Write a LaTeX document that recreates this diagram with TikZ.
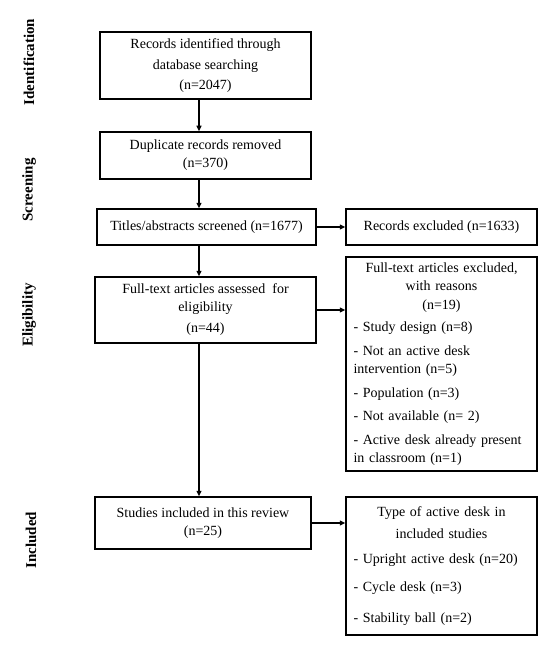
\documentclass[tikz,border=0pt]{standalone}
\usepackage{fontspec}
\setmainfont{Liberation Serif}
\usetikzlibrary{arrows.meta}
\begin{document}
\begin{tikzpicture}[x=1pt,y=-1pt,
  box/.style={draw, line width=1.5pt, inner sep=0pt, align=center,
    font=\fontsize{14}{18}\selectfont},
  listbox/.style={box, align=left, text width=176pt, inner xsep=7.5pt},
  phase/.style={rotate=90, font=\bfseries\fontsize{15}{17}\selectfont},
  arr/.style={line width=1.3pt, -{Triangle[length=5.5pt,width=5pt]}}]
\useasboundingbox (0,0) rectangle (556,650);
% phase labels
\node[phase] (pid) at (29,62) {Identification};
\node[phase] (psc) at (29,190) {Screening};
\node[phase] (pel) at (29,315) {Eligibility};
\node[phase] (pin) at (31,540) {Included};
% boxes
\node[box, minimum width=211pt, minimum height=67pt] (b1) at (205.5,65.5)
  {Records identified through\\[3pt] database searching\\[2pt] (n=2047)};
\node[box, minimum width=211pt, minimum height=47pt] (b2) at (205.5,155.5)
  {Duplicate records removed\\ (n=370)};
\node[box, minimum width=219pt, minimum height=36pt] (b3) at (206.5,227)
  {Titles/abstracts screened (n=1677)};
\node[box, minimum width=191pt, minimum height=36pt] (b4) at (441.5,227)
  {Records excluded (n=1633)};
\node[box, minimum width=221pt, minimum height=66pt] (b5) at (205.5,310)
  {Full-text articles assessed \ for\\ eligibility\\[3pt] (n=44)};
\node[listbox, minimum height=214pt, font=\fontsize{14}{18.5}\selectfont] (b6) at (441.5,364)
  {\makebox[\linewidth]{Full-text articles excluded,}\\
   \makebox[\linewidth]{with reasons}\\
   \makebox[\linewidth]{(n=19)}\\[4pt]
   - Study design (n=8)\\[5pt]
   - Not an active desk\\
   intervention (n=5)\\[5pt]
   - Population (n=3)\\[5pt]
   - Not available (n= 2)\\[5pt]
   - Active desk already present\\
   in classroom (n=1)};
\node[box, minimum width=216pt, minimum height=52pt] (b7) at (203,523)
  {Studies included in this review\\ (n=25)};
\node[listbox, minimum height=138pt] (b8) at (441.5,566)
  {\makebox[\linewidth]{Type of active desk in}\\[4pt]
   \makebox[\linewidth]{included studies}\\[7pt]
   - Upright active desk (n=20)\\[10pt]
   - Cycle desk (n=3)\\[13pt]
   - Stability ball (n=2)};
% connectors
\coordinate (cx) at (199,0);
\draw[arr] (b1.south -| cx) -- (b2.north -| cx);
\draw[arr] (b2.south -| cx) -- (b3.north -| cx);
\draw[arr] (b3.south -| cx) -- (b5.north -| cx);
\draw[arr] (b5.south -| cx) -- (b7.north -| cx);
\draw[arr] (b3.east) -- (b4.west);
\draw[arr] (b5.east) -- (b6.west |- b5.east);
\draw[arr] (b7.east) -- (b8.west |- b7.east);
\end{tikzpicture}
\end{document}
